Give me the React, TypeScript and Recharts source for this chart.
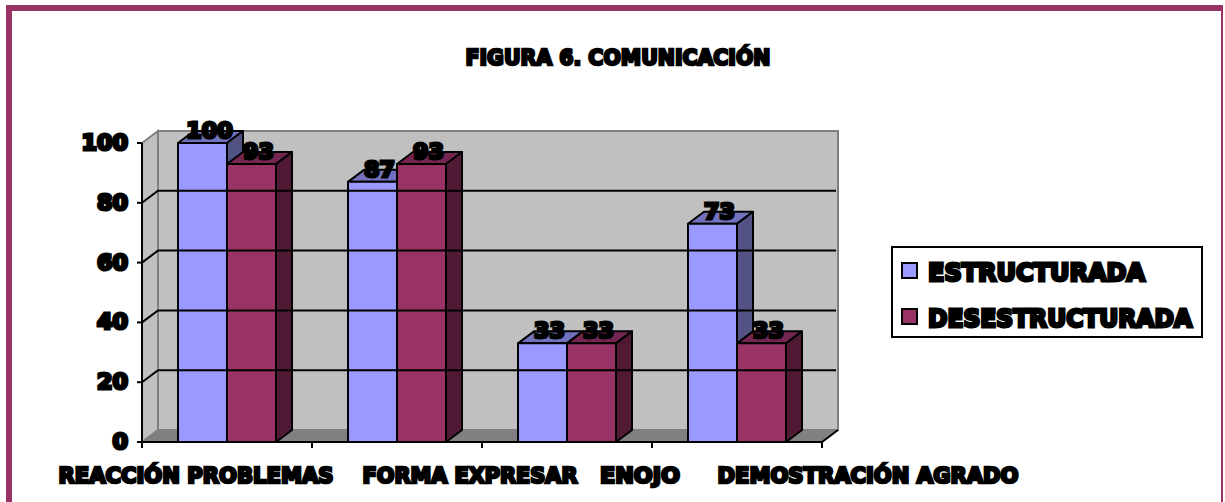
import { BarChart, Bar, XAxis, YAxis, Legend, LabelList, ReferenceArea, ReferenceLine } from "recharts";

const CATEGORIES = ["REACCIÓN PROBLEMAS", "FORMA EXPRESAR", "ENOJO", "DEMOSTRACIÓN AGRADO"];
const ESTRUCTURADA = [100, 87, 33, 73];
const DESESTRUCTURADA = [93, 93, 33, 33];
const Y_TICKS = [0, 20, 40, 60, 80, 100];

// labels in the original don't sit on their category centres
const LABEL_CENTER = [196, 470, 640, 868];
const LABEL_WIDTH = [275, 215, 80, 301];

const BLUE = "#9999FF";
const WINE = "#993366";
const DEPTH_X = 16;
const DEPTH_Y = 12;
const BAND = 170;
const TICK_GAP = 8; // recharts pushes custom ticks this far off the axis

const data = CATEGORIES.map((name, i) => ({
  name,
  estructurada: ESTRUCTURADA[i],
  desestructurada: DESESTRUCTURADA[i],
}));

function Heavy({ x, y, size, width, anchor = "middle", stroke = 2.6, children }: any) {
  return (
    <text
      x={x}
      y={y}
      textAnchor={anchor}
      fontFamily="'DejaVu Sans'"
      fontWeight={700}
      fontSize={size}
      fill="#000"
      stroke="#000"
      strokeWidth={stroke}
      textLength={width}
      lengthAdjust="spacingAndGlyphs"
    >
      {children}
    </text>
  );
}

// back wall, side wall and floor
function Walls({ x, y, width, height }: any) {
  const b = y + height;
  const r = x + width;
  return (
    <g>
      <polygon
        points={`${x + DEPTH_X},${y - DEPTH_Y} ${r + DEPTH_X},${y - DEPTH_Y} ${r + DEPTH_X},${b - DEPTH_Y} ${x + DEPTH_X},${b - DEPTH_Y}`}
        fill="#C0C0C0"
        stroke="#808080"
        strokeWidth={2}
      />
      <polygon
        points={`${x},${y} ${x + DEPTH_X},${y - DEPTH_Y} ${x + DEPTH_X},${b - DEPTH_Y} ${x},${b}`}
        fill="#C0C0C0"
        stroke="#808080"
        strokeWidth={2}
      />
      <polygon
        points={`${x},${b} ${x + DEPTH_X},${b - DEPTH_Y} ${r + DEPTH_X},${b - DEPTH_Y} ${r},${b}`}
        fill="#808080"
      />
    </g>
  );
}

function GridLine({ x1, y1, x2 }: any) {
  return (
    <polyline
      points={`${x1},${y1} ${x1 + DEPTH_X},${y1 - DEPTH_Y} ${x2 + DEPTH_X - 2},${y1 - DEPTH_Y}`}
      fill="none"
      stroke="#000"
      strokeWidth={2}
    />
  );
}

function Box3D({ x, y, width, height, fill, top, side }: any) {
  const common = { stroke: "#000", strokeWidth: 2, strokeLinejoin: "round" as const };
  return (
    <g>
      <polygon
        points={`${x},${y} ${x + DEPTH_X},${y - DEPTH_Y} ${x + width + DEPTH_X},${y - DEPTH_Y} ${x + width},${y}`}
        fill={top}
        {...common}
      />
      <polygon
        points={`${x + width},${y} ${x + width + DEPTH_X},${y - DEPTH_Y} ${x + width + DEPTH_X},${y + height - DEPTH_Y} ${x + width},${y + height}`}
        fill={side}
        {...common}
      />
      <rect x={x} y={y} width={width} height={height} fill={fill} {...common} />
    </g>
  );
}

function ValueLabel({ x, y, width, value }: any) {
  return (
    <Heavy x={x + width / 2 + 7} y={y - 5} size={22} stroke={3} width={String(value).length * 15.5}>
      {value}
    </Heavy>
  );
}

function YTick({ x, y, payload }: any) {
  const axis = x + TICK_GAP;
  return (
    <g>
      <line x1={axis - 5} y1={y} x2={axis} y2={y} stroke="#000" strokeWidth={2} />
      <Heavy x={axis - 14} y={y + 7} size={22} anchor="end" stroke={3} width={String(payload.value).length * 15.5}>
        {payload.value}
      </Heavy>
    </g>
  );
}

function XTick({ x, y, payload, index }: any) {
  const right = x + BAND / 2;
  const axis = y - TICK_GAP;
  return (
    <g>
      {index === 0 && <line x1={x - BAND / 2} y1={axis} x2={x - BAND / 2} y2={axis + 6} stroke="#000" strokeWidth={2} />}
      <line x1={right} y1={axis} x2={right} y2={axis + 6} stroke="#000" strokeWidth={2} />
      {index === 3 && <line x1={right} y1={axis} x2={right + DEPTH_X} y2={axis - DEPTH_Y} stroke="#000" strokeWidth={2} />}
      <Heavy x={LABEL_CENTER[index]} y={483} size={21} width={LABEL_WIDTH[index]}>
        {payload.value}
      </Heavy>
    </g>
  );
}

function LegendBox({ payload }: any) {
  return (
    <svg width={312} height={92} style={{ display: "block", overflow: "visible" }}>
      <rect x={1} y={1} width={310} height={90} fill="#fff" stroke="#000" strokeWidth={2} />
      {(payload || []).map((p: any, i: number) => (
        <g key={p.value} transform={`translate(0,${i * 46})`}>
          <rect x={11} y={17} width={15} height={15} fill={p.color} stroke="#000" strokeWidth={2} />
          <Heavy x={37} y={35} size={25} anchor="start" stroke={3} width={i === 0 ? 217 : 264}>
            {p.value}
          </Heavy>
        </g>
      ))}
    </svg>
  );
}

export default function App() {
  return (
    <div style={{ position: "absolute", left: 0, top: 0, width: 1225, height: 502, background: "#fff", overflow: "hidden" }}>
      <div style={{ position: "absolute", left: 6, top: 5, width: 1217, height: 497, boxSizing: "border-box", borderLeft: "6px solid #993366", borderTop: "6px solid #993366", borderRight: "2px solid #993366" }} />
      <div style={{ position: "absolute", left: 0, top: 0 }}>
        <BarChart
          width={1225}
          height={502}
          data={data}
          margin={{ top: 143, right: 403, bottom: 30, left: 42 }}
          barSize={49}
          barGap={0}
        >
          <ReferenceArea y1={0} y2={100} shape={<Walls />} ifOverflow="visible" />
          {Y_TICKS.slice(1, 5).map((t) => (
            <ReferenceLine key={t} y={t} ifOverflow="visible" shape={(p: any) => <GridLine {...p} />} />
          ))}
          <XAxis dataKey="name" height={30} interval={0} tickLine={false} tick={(p: any) => <XTick {...p} />} axisLine={{ stroke: "#000", strokeWidth: 2 }} />
          <YAxis width={100} domain={[0, 100]} ticks={Y_TICKS} tickLine={false} tick={(p: any) => <YTick {...p} />} axisLine={{ stroke: "#000", strokeWidth: 2 }} />
          <Legend
            layout="vertical"
            align="center"
            verticalAlign="middle"
            itemSorter={null}
            content={(p: any) => <LegendBox payload={p.payload} />}
            wrapperStyle={{ position: "absolute", left: 891, top: 246, width: 312, height: 92 }}
          />
          <Bar dataKey="estructurada" name="ESTRUCTURADA" fill={BLUE} isAnimationActive={false} shape={(p: any) => <Box3D {...p} top="#7272BE" side="#525285" />}>
            <LabelList dataKey="estructurada" content={(p: any) => <ValueLabel {...p} />} />
          </Bar>
          <Bar dataKey="desestructurada" name="DESESTRUCTURADA" fill={WINE} isAnimationActive={false} shape={(p: any) => <Box3D {...p} top="#742650" side="#501A35" />}>
            <LabelList dataKey="desestructurada" content={(p: any) => <ValueLabel {...p} />} />
          </Bar>
          <Heavy x={618} y={65} size={22} width={305}>FIGURA 6. COMUNICACIÓN</Heavy>
        </BarChart>
      </div>
    </div>
  );
}
